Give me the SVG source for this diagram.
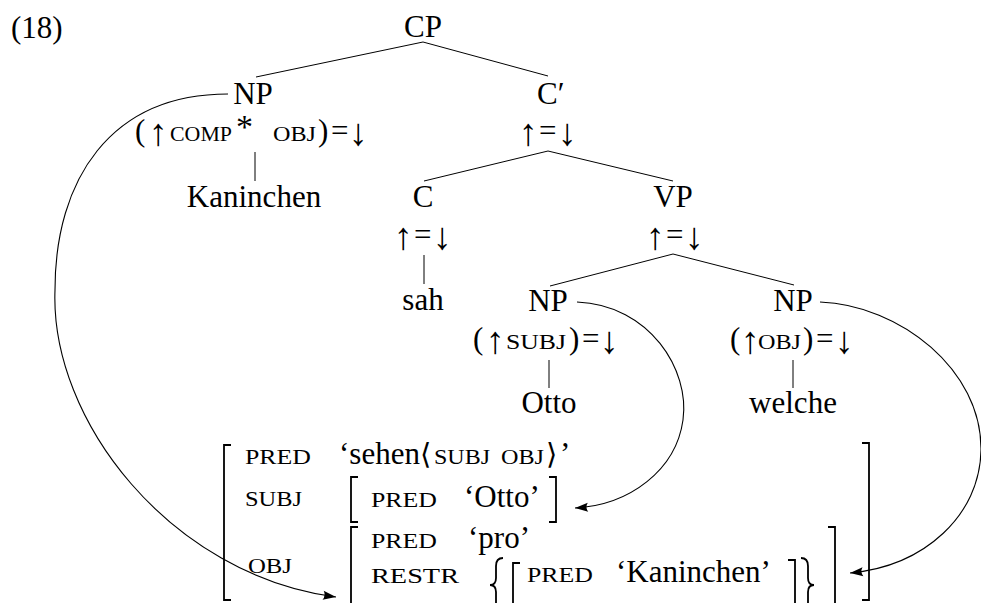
<svg xmlns="http://www.w3.org/2000/svg" width="981" height="603" viewBox="0 0 981 603">
<defs>
<style>
text{font-family:"Liberation Serif","DejaVu Serif",serif;font-size:31px;fill:#000}
.m{text-anchor:middle}
.ar{text-anchor:middle;font-size:38px}
.sc{font-size:22px}
.ang{font-family:"DejaVu Sans","DejaVu Serif",sans-serif;font-size:29px}
.ln{stroke:#000;stroke-width:1;fill:none}
.cv{stroke:#000;stroke-width:1.1;fill:none}
.br{stroke:#000;stroke-width:1.8;fill:none}
</style>
<marker id="ah" markerUnits="userSpaceOnUse" markerWidth="16" markerHeight="12" viewBox="-14 -6 16 12" refX="0" refY="0" orient="auto">
<path d="M0,0 L-13,-4.5 Q-10,0 -13,4.5 Z" fill="#000"/>
</marker>
</defs>
<rect width="981" height="603" fill="#fff"/>

<text x="11" y="38">(18)</text>

<g id="connectors">
<line class="ln" x1="423" y1="42" x2="256" y2="77"/>
<line class="ln" x1="423" y1="42" x2="548" y2="76"/>
<line class="ln" x1="255" y1="152" x2="255" y2="181"/>
<line class="ln" x1="548" y1="151" x2="424" y2="181"/>
<line class="ln" x1="548" y1="151" x2="673" y2="181"/>
<line class="ln" x1="424" y1="255" x2="424" y2="284"/>
<line class="ln" x1="673" y1="254" x2="550" y2="286"/>
<line class="ln" x1="673" y1="254" x2="794" y2="285"/>
<line class="ln" x1="549" y1="360" x2="549" y2="388"/>
<line class="ln" x1="793" y1="360" x2="793" y2="388"/>
<path class="cv" d="M228,94 C110,94 55,180 55,290 C50,420 170,575 336,597" marker-end="url(#ah)"/>
<path class="cv" d="M577,302 C650,305 690,370 683,420 C676,470 630,505 575,508" marker-end="url(#ah)"/>
<path class="cv" d="M820,302 C900,305 982,370 981,450 C980,515 925,566 850,573" marker-end="url(#ah)"/>
</g>

<g id="n-CP"><text class="m" x="423" y="37">CP</text></g>

<g id="n-NP-top">
<text class="m" x="253" y="104">NP</text>
<text x="135" y="141">(</text>
<text class="ar" x="158" y="145">↑</text>
<text class="sc" x="170" y="141" textLength="62" lengthAdjust="spacingAndGlyphs">COMP</text>
<text x="236" y="138" style="font-size:34px">*</text>
<text class="sc" x="273" y="141" textLength="43" lengthAdjust="spacingAndGlyphs">OBJ</text>
<text x="318" y="141">)</text>
<text x="331" y="141">=</text>
<text class="ar" x="358" y="145">↓</text>
</g>
<g id="l-Kaninchen"><text class="m" x="254" y="207">Kaninchen</text></g>

<g id="n-Cbar">
<text x="537" y="104">C′</text>
<text class="ar" x="528" y="145">↑</text>
<text x="539" y="141">=</text>
<text class="ar" x="567" y="145">↓</text>
</g>

<g id="n-C">
<text class="m" x="423" y="207">C</text>
<text class="ar" x="403" y="249">↑</text>
<text x="414" y="245">=</text>
<text class="ar" x="442" y="249">↓</text>
</g>
<g id="l-sah"><text class="m" x="423" y="310">sah</text></g>

<g id="n-VP">
<text class="m" x="673" y="207">VP</text>
<text class="ar" x="655" y="249">↑</text>
<text x="666" y="245">=</text>
<text class="ar" x="694" y="249">↓</text>
</g>

<g id="n-NP-subj">
<text class="m" x="548" y="311">NP</text>
<text x="473" y="349">(</text>
<text class="ar" x="495" y="353">↑</text>
<text class="sc" x="506" y="349" textLength="60" lengthAdjust="spacingAndGlyphs">SUBJ</text>
<text x="569" y="349">)</text>
<text x="582" y="349">=</text>
<text class="ar" x="609" y="353">↓</text>
</g>
<g id="l-Otto"><text class="m" x="549" y="413">Otto</text></g>

<g id="n-NP-obj">
<text class="m" x="793" y="311">NP</text>
<text x="730" y="349">(</text>
<text class="ar" x="750" y="353">↑</text>
<text class="sc" x="758" y="349" textLength="43" lengthAdjust="spacingAndGlyphs">OBJ</text>
<text x="803" y="349">)</text>
<text x="816" y="349">=</text>
<text class="ar" x="844" y="353">↓</text>
</g>
<g id="l-welche"><text class="m" x="793" y="413">welche</text></g>

<g id="f-structure">
<path class="br" d="M231,445 H224 V600 H231"/>
<path class="br" d="M862,443 H869 V600 H862"/>
<text class="sc" x="245" y="464" textLength="66" lengthAdjust="spacingAndGlyphs">PRED</text>
<text x="339" y="464">‘sehen</text>
<text class="ang" x="420" y="464">⟨</text>
<text class="sc" x="434" y="464" textLength="56" lengthAdjust="spacingAndGlyphs">SUBJ</text>
<text class="sc" x="501" y="464" textLength="43" lengthAdjust="spacingAndGlyphs">OBJ</text>
<text class="ang" x="546" y="464">⟩</text>
<text x="560" y="464">’</text>

<text class="sc" x="245" y="506" textLength="57" lengthAdjust="spacingAndGlyphs">SUBJ</text>
<path class="br" d="M358,477 H351 V522 H358"/>
<text class="sc" x="371" y="507" textLength="66" lengthAdjust="spacingAndGlyphs">PRED</text>
<text x="464" y="507">‘Otto’</text>
<path class="br" d="M549,477 H556 V522 H549"/>

<text class="sc" x="248" y="573" textLength="44" lengthAdjust="spacingAndGlyphs">OBJ</text>
<path class="br" d="M358,527 H351 V612"/>
<text class="sc" x="371" y="548" textLength="66" lengthAdjust="spacingAndGlyphs">PRED</text>
<text x="468" y="548">‘pro’</text>
<text class="sc" x="371" y="583" textLength="88" lengthAdjust="spacingAndGlyphs">RESTR</text>
<path class="br" d="M503,558 Q496,558 496,566 L496,578 Q496,585 490,585 Q496,585 496,592 L496,604 Q496,612 503,612"/>
<path class="br" d="M520,563 H513 V612"/>
<text class="sc" x="527" y="582" textLength="66" lengthAdjust="spacingAndGlyphs">PRED</text>
<text x="616" y="582">‘Kaninchen’</text>
<path class="br" d="M788,560 H795 V612"/>
<path class="br" d="M801,558 Q808,558 808,566 L808,578 Q808,585 814,585 Q808,585 808,592 L808,604 Q808,612 801,612"/>
<path class="br" d="M828,527 H835 V612"/>
</g>
</svg>
